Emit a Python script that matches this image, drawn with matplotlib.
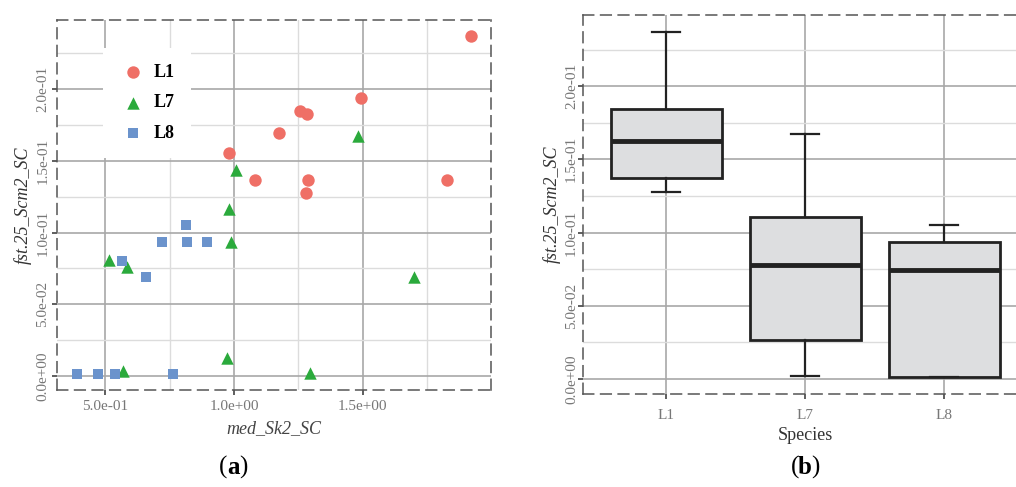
import matplotlib
matplotlib.use("Agg")
import matplotlib.pyplot as plt
from matplotlib.ticker import MultipleLocator, FormatStrFormatter

# values
l1_x = [1.921, 1.495, 1.256, 1.282, 1.176, 0.979, 1.083, 1.288, 1.279, 1.827]
l1_y = [0.237, 0.194, 0.1847, 0.183, 0.1697, 0.1558, 0.1368, 0.137, 0.1278, 0.137]
l7_x = [1.482, 1.007, 0.981, 0.990, 0.513, 0.584, 1.700, 0.972, 0.571, 1.295]
l7_y = [0.1674, 0.1435, 0.1165, 0.0938, 0.0806, 0.0757, 0.0694, 0.0127, 0.0035, 0.0019]
l8_x = [0.814, 0.721, 0.817, 0.894, 0.566, 0.659, 0.390, 0.471, 0.539, 0.765]
l8_y = [0.1053, 0.0933, 0.0933, 0.0933, 0.0799, 0.0688, 0.0014, 0.0014, 0.0014, 0.0014]
species = ["L1", "L7", "L8"]
colors = ["#EF6F66", "#2BAA3C", "#6B93CC"]
markers = ["o", "^", "s"]

plt.rcParams["font.family"] = ["Liberation Serif", "DejaVu Serif"]

fig = plt.figure(figsize=(10.16, 4.87), dpi=100)
W, H = 1016, 487


def axes_px(x0, y0, x1, y1):
    return fig.add_axes([x0 / W, 1 - y1 / H, (x1 - x0) / W, (y1 - y0) / H])


def style(ax, ypad):
    ax.set_axisbelow(True)
    for s in ax.spines.values():
        s.set_linestyle((0, (7, 4.5)))
        s.set_linewidth(1.1)
        s.set_color("#555555")
    ax.tick_params(which="major", direction="out", length=3.5, width=1.1,
                   color="#333333", labelcolor="#777777", labelsize=11)
    ax.tick_params(axis="x", which="major", pad=4)
    ax.tick_params(axis="y", which="major", pad=ypad)
    ax.tick_params(which="minor", length=0)
    ax.yaxis.set_major_locator(MultipleLocator(0.05))
    ax.yaxis.set_minor_locator(MultipleLocator(0.025))
    ax.yaxis.set_major_formatter(FormatStrFormatter("%.1e"))
    ax.set_ylim(-0.0102, 0.2486)
    for lab in ax.get_yticklabels():
        lab.set_rotation(90)
        lab.set_va("center")
    ax.grid(which="major", axis="y", color="#A8A8A8", lw=1.2)
    ax.grid(which="minor", axis="y", color="#DCDCDC", lw=1.0)


# (a) scatter
ax1 = axes_px(57, 20, 491, 390)
style(ax1, 2)
ax1.xaxis.set_major_locator(MultipleLocator(0.5))
ax1.xaxis.set_minor_locator(MultipleLocator(0.25))
ax1.xaxis.set_major_formatter(FormatStrFormatter("%.1e"))
ax1.grid(which="major", axis="x", color="#A8A8A8", lw=1.2)
ax1.grid(which="minor", axis="x", color="#DCDCDC", lw=1.0)
ax1.set_xlim(0.313, 1.998)
ax1.set_ylim(-0.0097, 0.2482)

sizes = [80, 80, 55]
for xs, ys, lab, c, m, s in zip([l1_x, l7_x, l8_x], [l1_y, l7_y, l8_y], species, colors, markers, sizes):
    ax1.scatter(xs, ys, s=s, color=c, marker=m, label=lab, linewidths=0, zorder=3)

leg = ax1.legend(loc="upper left", bbox_to_anchor=(0.085, 0.95), frameon=True,
                 facecolor="white", edgecolor="none", framealpha=1, fancybox=False,
                 prop={"family": "Liberation Serif", "weight": "bold", "size": 13},
                 handletextpad=0.4, labelspacing=0.75, borderpad=0.9, handlelength=1.5)
ax1.set_xlabel("med_Sk2_SC", fontsize=13, style="italic", color="#444444", labelpad=5)
ax1.set_ylabel("fst.25_Scm2_SC", fontsize=13, style="italic", color="#333333", labelpad=3)

# (b) box plot
ax2 = axes_px(583, 15, 1027.5, 394)
style(ax2, 0)
ax2.boxplot([l1_y, l7_y, l8_y], positions=[1, 2, 3], widths=0.8, capwidths=0.2,
            patch_artist=True, showfliers=False,
            boxprops=dict(facecolor="#DDDEE0", edgecolor="#222222", linewidth=2.0),
            medianprops=dict(color="#222222", linewidth=3.5),
            whiskerprops=dict(color="#222222", linewidth=1.6),
            capprops=dict(color="#222222", linewidth=1.6))
ax2.set_xlim(0.4, 3.6)
ax2.set_xticks([1, 2, 3])
ax2.set_xticklabels(species)
ax2.tick_params(axis="x", which="major", pad=7)
ax2.xaxis.set_minor_locator(MultipleLocator(10))
ax2.grid(which="major", axis="x", color="#A8A8A8", lw=1.2)
ax2.set_xlabel("Species", fontsize=13, color="#333333", labelpad=4)
ax2.set_ylabel("fst.25_Scm2_SC", fontsize=13, style="italic", color="#333333", labelpad=3)

# panel captions
for cx, letter in [(233, "a"), (805, "b")]:
    y = 1 - 467 / H
    fig.text((cx - 6) / W, y, "(", ha="right", va="center", fontsize=18)
    fig.text(cx / W, y, letter, ha="center", va="center", fontsize=18, weight="bold")
    fig.text((cx + 6) / W, y, ")", ha="left", va="center", fontsize=18)

fig.savefig("out.png", dpi=100)
